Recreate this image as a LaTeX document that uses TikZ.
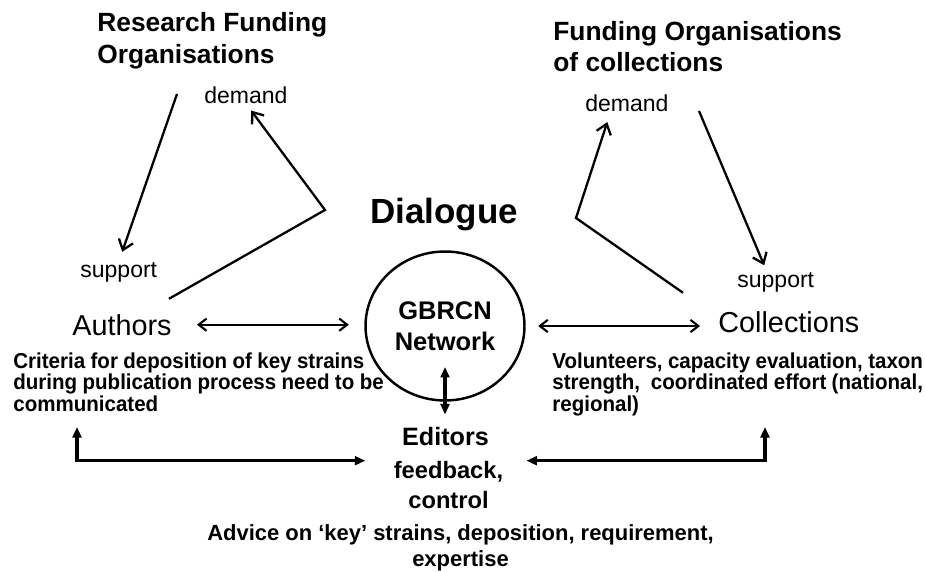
\documentclass[tikz,border=0pt]{standalone}
\usepackage{fontspec}
\setmainfont{Liberation Sans}
\newfontfamily\narrowsans[FakeStretch=0.95]{Liberation Sans}
\usetikzlibrary{arrows.meta,shapes.geometric}
\newcommand\tightwords{\spaceskip 0.25em\relax}
\tikzset{%
    head/.style={font=\fontsize{15}{18}\selectfont\bfseries,align=left,inner sep=0pt},
    word/.style={font=\fontsize{13.1}{15}\selectfont,inner sep=0pt},
    actor/.style={font=\fontsize{16.4}{19}\selectfont,inner sep=0pt},
    remark/.style={font=\narrowsans\fontsize{12.3}{12.2}\selectfont\bfseries\tightwords,align=left,inner sep=0pt},
    hub/.style={draw,line width=1.4pt,ellipse,minimum width=3.18cm,minimum height=2.98cm,inner sep=0pt,align=center,font=\fontsize{14.5}{17.6}\selectfont\bfseries},
    barb/.style={line width=1.3pt,-{Straight Barb[length=5.5pt,width=8.5pt]}},
    twoway/.style={line width=1.2pt,{Straight Barb[length=4.5pt,width=7pt]}-{Straight Barb[length=4.5pt,width=7pt]}},
    fat/.style={line width=2pt,{Triangle[length=6pt,width=5pt]}-{Triangle[length=6pt,width=5pt]}}
}
\begin{document}
\begin{tikzpicture}[x=0.02cm,y=-0.02cm]
        \useasboundingbox (0,0) rectangle (925,571);
        \node[head,anchor=north west] (rfo) at (97,12.4) {Research Funding\\Organisations};
        \node[head,anchor=north west] (fob) at (553,20.7) {Funding Organisations\\of collections};
        \node[word,anchor=base west] (demL) at (204,103) {demand};
        \node[word,anchor=base west] (demR) at (585,112) {demand};
        \node[word,anchor=base west] (supL) at (80,277) {support};
        \node[word,anchor=base west] (supR) at (737,287) {support};
        \node[font=\fontsize{19.9}{24}\selectfont\bfseries,inner sep=0pt,anchor=base west] (dia) at (370,223) {Dialogue};

        \node[actor,anchor=base west] (authors) at (72,335) {Authors};
        \node[actor,anchor=base west] (coll) at (718,332) {Collections};
        \node[hub] (net) at (445,326) {GBRCN\\Network};
        \node[font=\fontsize{14.3}{17}\selectfont\bfseries,inner sep=0pt,anchor=base] (editors) at (445.5,445) {Editors};
        \node[font=\fontsize{13.5}{17.1}\selectfont\bfseries,align=center,inner sep=0pt,anchor=north] (fbc) at (448.5,460.7) {feedback,\\control};

        \node[remark,anchor=north west] (crit) at (13,352.5) {Criteria for deposition of key strains\\during publication process need to be\\communicated};
        \node[remark,anchor=north west] (vol) at (552,352.5) {Volunteers, capacity evaluation, taxon\\strength,\ \ coordinated effort (national,\\regional)};
        \node[font=\fontsize{12.5}{14.8}\selectfont\bfseries,align=center,inner sep=0pt,anchor=north] (adv) at (460.5,524) {Advice on ‘key’ strains, deposition, requirement,\\expertise};

        \coordinate (rfoOut) at (177,94);
        \coordinate (kinkL) at (325,210);
        \coordinate (fobOut) at (699,111);
        \coordinate (kinkR) at (576,218);
        \coordinate (critB) at (77,427);
        \coordinate (volB) at (765,427);

        \draw[barb,shorten >=6pt] (rfoOut) -- (supL.north);
        \draw[barb,shorten >=5pt] ([shift={(-3,-15)}]authors.north east) -- (kinkL) -- (demL.south);
        \draw[barb,shorten >=4pt] (fobOut) -- (supR.131);
        \draw[barb,shorten >=5.7pt] ([shift={(-35,-18)}]coll.north west) -- (kinkR) -- (demR.-152);
        \draw[twoway,shorten <=14.2pt,shorten >=8.8pt] (authors.east) -- (authors.east -| net.west);
        \draw[twoway,shorten <=7.1pt,shorten >=10.2pt] (net.east) -- (net.east -| coll.west);
        \draw[fat,shorten <=23.3pt,shorten >=6.8pt] (net.center) -- (net.center |- editors.north);
        \draw[fat,shorten >=16pt] (critB) |- (fbc.north west);
        \draw[fat,shorten >=13pt] (volB) |- (fbc.north east);
    \end{tikzpicture}
\end{document}
